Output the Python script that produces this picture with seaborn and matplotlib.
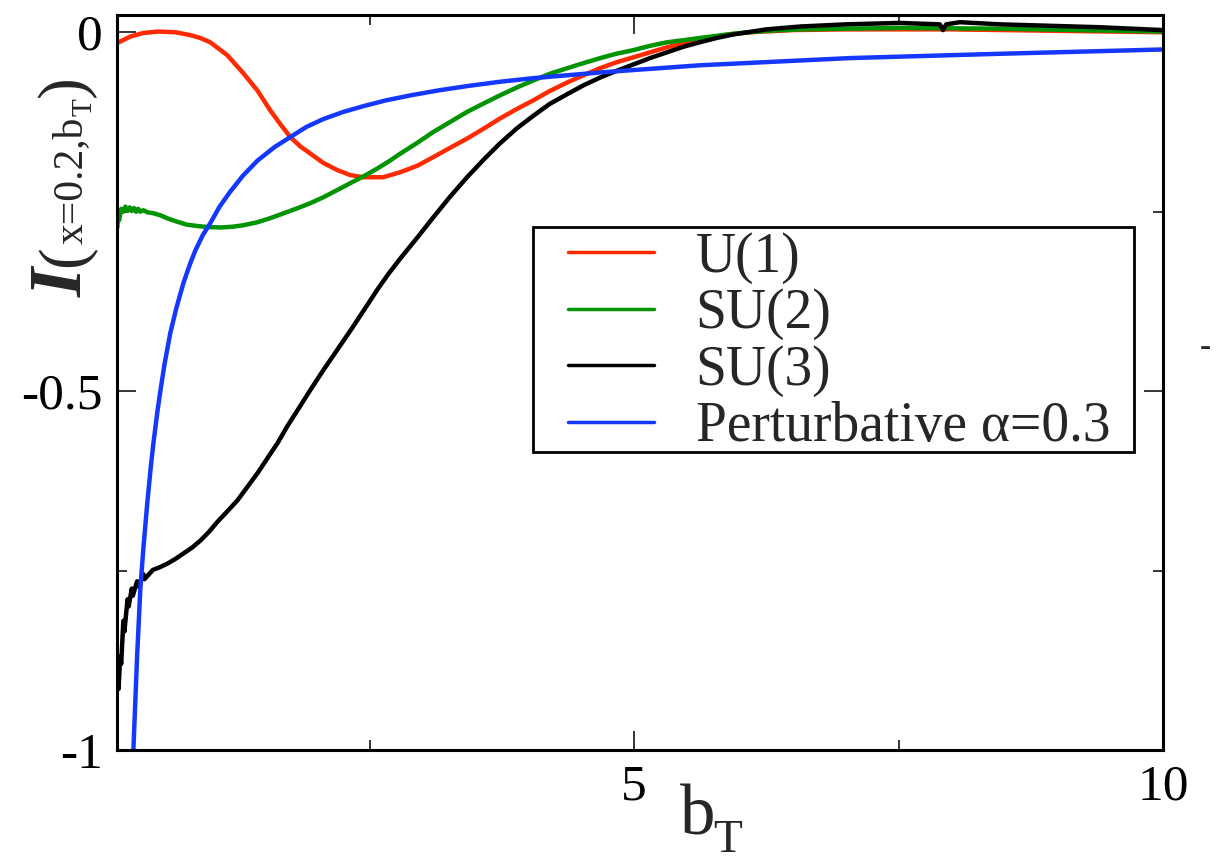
import matplotlib
matplotlib.use('Agg')
import matplotlib.pyplot as plt
import matplotlib.patches as mpatches
import seaborn as sns
import pandas as pd

# values
u1_x = [0.113, 0.236, 0.359, 0.501, 0.662, 0.803, 0.898, 0.992, 1.153, 1.304, 1.437, 1.56, 1.654, 1.749,
        1.843, 1.938, 2.06, 2.193, 2.316, 2.439, 2.628, 2.788, 2.95, 3.10, 3.26, 3.422, 3.58, 3.733,
        3.89, 4.045, 4.2, 4.367, 4.52, 4.679, 4.83, 4.991, 5.15, 5.312, 5.47, 5.624, 5.85, 6.096, 6.5,
        7.0, 8.0, 9.0, 10.0]
u1_y = [-0.015, -0.006, -0.001, 0.001, 0.0, -0.004, -0.008, -0.014, -0.032, -0.057, -0.081, -0.109, -0.128,
        -0.146, -0.159, -0.169, -0.182, -0.192, -0.199, -0.202, -0.202, -0.195, -0.186, -0.174, -0.161,
        -0.148, -0.134, -0.120, -0.107, -0.095, -0.082, -0.070, -0.060, -0.050, -0.042, -0.035, -0.028,
        -0.021, -0.015, -0.010, -0.004, 0.0, 0.003, 0.004, 0.004, 0.002, 0.0]

su2_x = [0.113, 0.12, 0.13, 0.15, 0.17, 0.19, 0.21, 0.23, 0.25, 0.27, 0.29, 0.31, 0.33, 0.36, 0.40, 0.45,
         0.52, 0.60, 0.68, 0.77, 0.87, 0.98, 1.09, 1.20, 1.30, 1.43, 1.56, 1.69, 1.82, 1.94, 2.06, 2.19,
         2.32, 2.45, 2.57, 2.68, 2.79, 2.95, 3.10, 3.26, 3.42, 3.58, 3.73, 3.89, 4.05, 4.2, 4.37, 4.52,
         4.68, 4.83, 4.99, 5.15, 5.31, 5.47, 5.62, 5.94, 6.25, 6.57, 7.0, 7.51, 8.46, 9.2, 10.0]
su2_y = [-0.272, -0.258, -0.262, -0.246, -0.250, -0.243, -0.249, -0.244, -0.249, -0.245, -0.250, -0.246,
         -0.250, -0.248, -0.251, -0.252, -0.255, -0.260, -0.264, -0.268, -0.270, -0.2715, -0.272, -0.271,
         -0.269, -0.265, -0.259, -0.252, -0.245, -0.238, -0.230, -0.220, -0.210, -0.200, -0.190, -0.180,
         -0.169, -0.154, -0.139, -0.125, -0.111, -0.099, -0.088, -0.077, -0.067, -0.058, -0.050, -0.043,
         -0.036, -0.030, -0.025, -0.019, -0.014, -0.011, -0.008, -0.002, 0.002, 0.004, 0.005, 0.006,
         0.005, 0.003, 0.001]

su3_x = [0.113, 0.125, 0.14, 0.15, 0.17, 0.18, 0.21, 0.22, 0.25, 0.26, 0.30, 0.31, 0.36, 0.37, 0.45,
         0.52, 0.59, 0.66, 0.74, 0.82, 0.90, 0.98, 1.06, 1.15, 1.25, 1.34, 1.44, 1.53, 1.63, 1.72, 1.82,
         1.94, 2.06, 2.19, 2.32, 2.45, 2.57, 2.68, 2.79, 2.95, 3.10, 3.26, 3.42, 3.58, 3.73, 3.89, 4.05,
         4.2, 4.37, 4.52, 4.68, 4.83, 4.99, 5.15, 5.31, 5.47, 5.62, 5.78, 5.94, 6.25, 6.57, 7.0, 7.51,
         7.89, 7.92, 7.95, 8.08, 8.46, 9.4, 10.0]
su3_y = [-0.903, -0.915, -0.870, -0.880, -0.820, -0.835, -0.790, -0.800, -0.775, -0.785, -0.765, -0.772,
         -0.755, -0.762, -0.749, -0.745, -0.740, -0.734, -0.726, -0.718, -0.708, -0.696, -0.682, -0.668,
         -0.652, -0.634, -0.614, -0.594, -0.572, -0.549, -0.526, -0.498, -0.471, -0.443, -0.415, -0.386,
         -0.359, -0.336, -0.315, -0.286, -0.258, -0.229, -0.202, -0.177, -0.155, -0.134, -0.116, -0.100,
         -0.086, -0.074, -0.063, -0.054, -0.045, -0.036, -0.028, -0.020, -0.014, -0.008, -0.003, 0.004,
         0.008, 0.011, 0.013, 0.011, 0.003, 0.011, 0.014, 0.011, 0.007, 0.003]

pert_x = [0.246, 0.265, 0.28, 0.30, 0.331, 0.36, 0.397, 0.43, 0.454, 0.49, 0.52, 0.56, 0.614, 0.67, 0.737,
          0.80, 0.851, 0.92, 0.992, 1.08, 1.181, 1.30, 1.437, 1.60, 1.749, 1.90, 2.06, 2.25, 2.439, 2.65,
          2.883, 3.15, 3.422, 3.73, 4.045, 4.679, 5.624, 7.042, 8.459, 10.0]
pert_y = [-1.08, -1.0, -0.945, -0.870, -0.775, -0.718, -0.655, -0.605, -0.573, -0.531, -0.500, -0.462,
          -0.419, -0.385, -0.350, -0.323, -0.304, -0.283, -0.266, -0.243, -0.222, -0.200, -0.179, -0.160,
          -0.146, -0.132, -0.121, -0.111, -0.103, -0.095, -0.088, -0.081, -0.075, -0.069, -0.064, -0.056,
          -0.046, -0.036, -0.030, -0.024]

labels = ['U(1)', 'SU(2)', 'SU(3)', 'Perturbative α=0.3']
colors = ['#ff2a00', '#009400', '#000000', '#1438ff']

sns.set_style('ticks')
plt.rcParams['font.family'] = ['Liberation Serif', 'DejaVu Serif']
plt.rcParams['mathtext.fontset'] = 'stix'
plt.rcParams['axes.unicode_minus'] = False

W, H = 1216, 863
fig = plt.figure(figsize=(W / 100, H / 100), dpi=100)
ax = fig.add_axes([0.0962, 0.1309, 0.8602, 0.8517])

series = [(u1_x, u1_y), (su2_x, su2_y), (su3_x, su3_y), (pert_x, pert_y)]
for (xs, ys), lab, col in zip(series, labels, colors):
  d = pd.DataFrame({'b': xs, 'I': ys})
  sns.lineplot(data=d, x='b', y='I', ax=ax, color=col, lw=3.2, label=lab, estimator=None, sort=False)

ax.set_xlim(0.11, 10)
ax.set_ylim(-1, 0.024)
ax.set_xticks([5, 10])
ax.set_xticklabels(['5', '10'])
ax.set_xticks([2.5, 7.5], minor=True)
ax.set_yticks([-1, -0.5, 0])
ax.set_yticklabels(['-1', '-0.5', '0'])
ax.set_yticks([-0.75, -0.25], minor=True)
ax.tick_params(which='both', direction='in', top=True, right=True, width=1.1, colors='black')
ax.tick_params(which='major', length=14, labelsize=37, pad=10)
ax.tick_params(which='minor', length=7)
for s in ax.spines.values():
  s.set_linewidth(2.2)
  s.set_color('black')
ax.set_xlabel('')
ax.set_ylabel('')

# x label: b with a dropped subscript T
fig.text(680 / W, 1 - 834 / H, 'b', fontsize=51, ha='left', va='baseline')
fig.text(713 / W, 1 - 862 / H, 'T', fontsize=34, ha='left', va='bottom')

# y label built from pieces, laid out bottom to top
renderer = fig.canvas.get_renderer()
pieces = [('I', 54, 0, dict(fontstyle='italic', fontweight='bold')),
          ('(', 47, 0, {}),
          ('x=0.2,b', 30, 0, {}),
          ('T', 21, 9, {}),
          (')', 47, 0, {})]
py = 297
for txt, size, dx, kw in pieces:
  t = fig.text((82 + dx) / W, 1 - py / H, txt, fontsize=size, rotation=90, rotation_mode='anchor',
               ha='left', va='baseline', **kw)
  bb = t.get_window_extent(renderer=renderer)
  py = H - bb.y1 - 1

fig.text(1205 / W, 1 - 348 / H, '-', fontsize=24, ha='center', va='center')

# legend frame drawn as its own box, entries placed inside it
ax.add_patch(mpatches.Rectangle((0.398, 0.405), 0.574, 0.307, transform=ax.transAxes, fill=True,
                                facecolor='white', edgecolor='black', lw=2, zorder=5))
leg = ax.legend(loc='upper left', bbox_to_anchor=(0.431, 0.7055), borderaxespad=0, fontsize=40,
                frameon=False, labelspacing=0.08, handlelength=1.55, handletextpad=0.75, borderpad=0)
leg.set_zorder(6)
for h in leg.get_lines():
  h.set_linewidth(2.5)

fig.savefig('out.png', dpi=100)
